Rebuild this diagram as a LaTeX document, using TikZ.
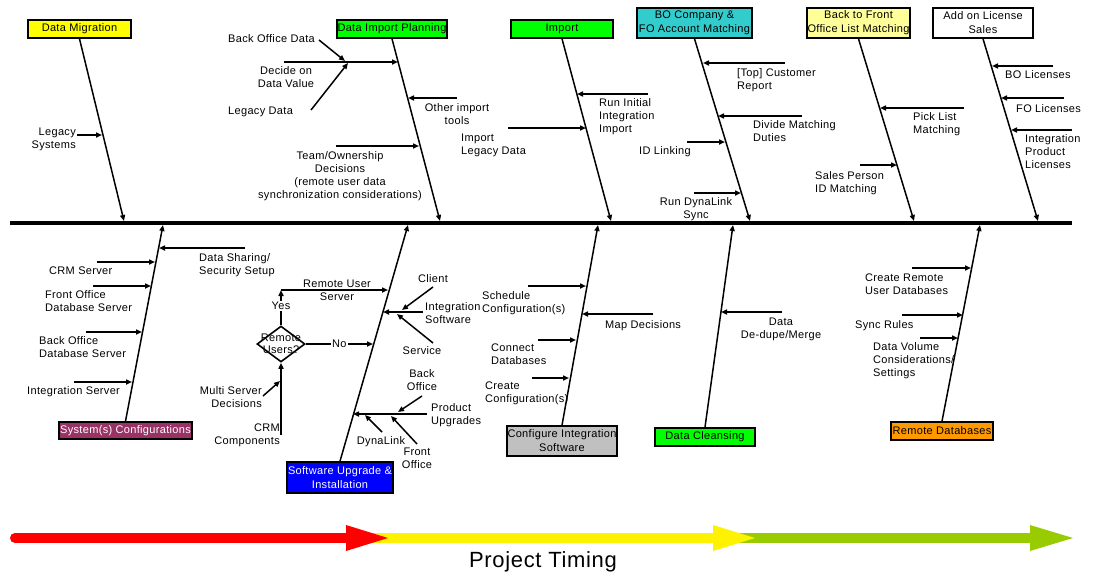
\documentclass[tikz,border=0pt]{standalone}
\usepackage{fontspec}
\setmainfont{Liberation Sans}[LetterSpace=3]
\usetikzlibrary{arrows.meta,shapes.geometric}

\definecolor{catyellow}{RGB}{255,255,0}
\definecolor{catgreen}{RGB}{0,255,0}
\definecolor{catcyan}{RGB}{51,204,204}
\definecolor{catpale}{RGB}{255,255,153}
\definecolor{catplum}{RGB}{153,51,102}
\definecolor{catblue}{RGB}{0,0,255}
\definecolor{catgray}{RGB}{192,192,192}
\definecolor{catorange}{RGB}{255,153,0}
\definecolor{timegreen}{RGB}{153,204,0}

\begin{document}
\begin{tikzpicture}[
			x = 1pt, y = -1pt,
			every node/.style = {font=\fontsize{11}{13}\selectfont, inner sep=0pt},
			catbox/.style = {draw, line width=1.6pt, align=center, font=\fontsize{11}{14}\selectfont},
			bone/.style = {line width=1.5pt, -{Triangle[length=6pt,width=5pt]}},
			decision/.style = {draw, diamond, line width=1.6pt, minimum width=48, minimum height=36},
			flag/.style = {fill=white, inner sep=1pt}
			]
			\useasboundingbox (0,0) rectangle (1093,573);

			% spine
			\coordinate (tail) at (10,223);
			\coordinate (head) at (1072,223);
			\draw[line width=4pt] (tail) -- (head);

			% categories above the spine
			\node[catbox, fill=catyellow, minimum width=103, minimum height=18] (migration) at (79.5,29) {Data Migration};
			\node[catbox, fill=catgreen, minimum width=110, minimum height=18] (planning) at (392,29) {Data Import Planning};
			\node[catbox, fill=catgreen, minimum width=102, minimum height=18] (import) at (562,29) {Import};
			\node[catbox, fill=catcyan, minimum width=115, minimum height=30] (bomatch) at (694.5,23) {BO Company \&\\FO Account Matching};
			\node[catbox, fill=catpale, minimum width=103, minimum height=30] (listmatch) at (858.5,23) {Back to Front\\Office List Matching};
			\node[catbox, fill=white, minimum width=100, minimum height=30] (license) at (983,23) {Add on License\\Sales};

			\coordinate (m1) at (124,221);
			\coordinate (m2) at (440,221);
			\coordinate (m3) at (611,221);
			\coordinate (m4) at (750,221);
			\coordinate (m5) at (914,221);
			\coordinate (m6) at (1038,221);
			\draw[bone] (migration.south) -- (m1);
			\draw[bone] (planning.south) -- (m2);
			\draw[bone] (import.south) -- (m3);
			\draw[bone] (bomatch.south) -- (m4);
			\draw[bone] (listmatch.south) -- (m5);
			\draw[bone] (license.south) -- (m6);

			% categories below the spine
			\node[catbox, fill=catplum, text=white, minimum width=133, minimum height=17] (sysconf) at (125.5,430.5) {System(s) Configurations};
			\node[catbox, fill=catblue, text=white, minimum width=106, minimum height=31] (swupgrade) at (340,477.5) {Software Upgrade \&\\Installation};
			\node[catbox, fill=catgray, minimum width=110, minimum height=30] (configure) at (562,441) {Configure Integration\\Software};
			\node[catbox, fill=catgreen, minimum width=100, minimum height=18] (cleansing) at (705,437) {Data Cleansing};
			\node[catbox, fill=catorange, minimum width=102, minimum height=18] (remotedb) at (942,431) {Remote Databases};

			\coordinate (n1) at (163,225);
			\coordinate (n2) at (408,225);
			\coordinate (n3) at (598,225);
			\coordinate (n4) at (733,225);
			\coordinate (n5) at (980,225);
			\draw[bone] (sysconf.north) -- (n1);
			\draw[bone] (swupgrade.north) -- (n2);
			\draw[bone] (configure.north) -- (n3);
			\draw[bone] (cleansing.north) -- (n4);
			\draw[bone] (remotedb.north) -- (n5);

			% causes, top
			\node[anchor=base east, align=right] (legacysys) at (76,148) {Legacy\\Systems};
			\draw[bone] (77,135) -- (102,135);

			\node[anchor=base west] (bodata) at (228,42) {Back Office Data};
			\node[anchor=base, align=center] (decide) at (286,87) {Decide on\\Data Value};
			\node[anchor=base west] (legacydata) at (228,114) {Legacy Data};
			\draw[bone] (284,62) -- (398,62);
			\draw[bone] (319,40) -- (345,61);
			\draw[bone] (311,110) -- (348,63);
			\node[anchor=base, align=center] (otherimport) at (457,124) {Other import\\tools};
			\draw[bone] (457,98) -- (408,98);
			\node[anchor=base, align=center] (team) at (340,198) {Team/Ownership\\Decisions\\(remote user data\\synchronization considerations)};
			\draw[bone] (336,146) -- (419,146);

			\node[anchor=base west, align=left] (runinitial) at (599,132) {Run Initial\\Integration\\Import};
			\draw[bone] (648,94) -- (577,94);
			\node[anchor=base west, align=left] (importlegacy) at (461,154) {Import\\Legacy Data};
			\draw[bone] (508,128) -- (586,128);

			\node[anchor=base west, align=left] (topcust) at (737,89) {[Top] Customer\\Report};
			\draw[bone] (785,63) -- (703,63);
			\node[anchor=base west, align=left] (divide) at (753,141) {Divide Matching\\Duties};
			\draw[bone] (802,116) -- (718,116);
			\node[anchor=base west] (idlinking) at (639,154) {ID Linking};
			\draw[bone] (687,142) -- (725,142);
			\node[anchor=base, align=center] (rundyna) at (696,218) {Run DynaLink\\Sync};
			\draw[bone] (694,193) -- (741,193);

			\node[anchor=base west, align=left] (picklist) at (913,133) {Pick List\\Matching};
			\draw[bone] (964,108) -- (880,108);
			\node[anchor=base west, align=left] (salesperson) at (815,192) {Sales Person\\ID Matching};
			\draw[bone] (860,165) -- (897,165);

			\node[anchor=base west] (bolic) at (1005,78) {BO Licenses};
			\draw[bone] (1053,66) -- (992,66);
			\node[anchor=base west] (folic) at (1016,112) {FO Licenses};
			\draw[bone] (1064,98) -- (1001,98);
			\node[anchor=base west, align=left] (intlic) at (1025,168) {Integration\\Product\\Licenses};
			\draw[bone] (1072,130) -- (1011,130);

			% causes, bottom
			\node[anchor=base west, align=left] (datasharing) at (199,274) {Data Sharing/\\Security Setup};
			\draw[bone] (245,248) -- (159,248);
			\node[anchor=base west] (crmserver) at (49,274) {CRM Server};
			\draw[bone] (97,262) -- (155,262);
			\node[anchor=base west, align=left] (foserver) at (45,311) {Front Office\\Database Server};
			\draw[bone] (93,286) -- (151,286);
			\node[anchor=base west, align=left] (boserver) at (39,357) {Back Office\\Database Server};
			\draw[bone] (86,332) -- (142,332);
			\node[anchor=base west] (intserver) at (27,394) {Integration Server};
			\draw[bone] (74,382) -- (132,382);

			\node[decision] (users) at (281,344) {};
			\node[align=center, font=\fontsize{11}{12}\selectfont] (userstext) at (users) {Remote\\Users?};
			\coordinate (yesturn) at (281,290);
			\draw[bone] (users.north) -- (yesturn);
			\node[flag] (yes) at (281,306) {Yes};
			\draw[bone] (yesturn) -- (388,290);
			\node[anchor=base, align=center] (remoteuser) at (337,300) {Remote User\\Server};
			\draw[bone] (users.east) -- (373,344) node[flag, midway] (no) {No};
			\node[anchor=base east, align=right] (multiserver) at (262,407) {Multi Server\\Decisions};
			\draw[bone] (263,396) -- (280,381);
			\node[anchor=base east, align=right] (crmcomp) at (280,444) {CRM\\Components};
			\draw[bone] (281,435) -- (users.south);

			\node[anchor=base] (client) at (433,282) {Client};
			\node[anchor=base west, align=left] (intsoftware) at (425,323) {Integration\\Software};
			\node[anchor=base] (service) at (422,354) {Service};
			\draw[bone] (423,312) -- (383,312);
			\draw[bone] (433,287) -- (402,310);
			\draw[bone] (433,343) -- (397,314);

			\node[anchor=base, align=center] (backoffice) at (422,390) {Back\\Office};
			\node[anchor=base west, align=left] (productupg) at (431,424) {Product\\Upgrades};
			\node[anchor=base] (dynalink) at (381,444) {DynaLink};
			\node[anchor=base, align=center] (frontoffice) at (417,468) {Front\\Office};
			\draw[bone] (427,414) -- (353,414);
			\draw[bone] (422,396) -- (398,412);
			\draw[bone] (382,432) -- (365,415);
			\draw[bone] (417,444) -- (391,416);

			\node[anchor=base west, align=left] (schedule) at (482,312) {Schedule\\Configuration(s)};
			\draw[bone] (528,286) -- (586,286);
			\node[anchor=base west] (mapdec) at (605,328) {Map Decisions};
			\draw[bone] (653,314) -- (582,314);
			\node[anchor=base west, align=left] (connectdb) at (491,364) {Connect\\Databases};
			\draw[bone] (538,340) -- (576,340);
			\node[anchor=base west, align=left] (createconf) at (485,402) {Create\\Configuration(s)};
			\draw[bone] (532,378) -- (569,378);

			\node[anchor=base, align=center] (datadedupe) at (781,338) {Data\\De-dupe/Merge};
			\draw[bone] (782,312) -- (721,312);

			\node[anchor=base west, align=left] (createremote) at (865,294) {Create Remote\\User Databases};
			\draw[bone] (912,268) -- (971,268);
			\node[anchor=base west] (syncrules) at (855,328) {Sync Rules};
			\draw[bone] (902,315) -- (963,315);
			\node[anchor=base west, align=left] (datavolume) at (873,376) {Data Volume\\Considerations/\\Settings};
			\draw[bone] (920,338) -- (958,338);

			% timing arrow
			\fill[timegreen] (730,533) rectangle (1030,543);
			\fill[timegreen] (1030,525) -- (1073,538) -- (1030,551) -- cycle;
			\fill[yellow] (370,533) rectangle (713,543);
			\fill[yellow] (713,525) -- (755,538) -- (713,551) -- cycle;
			\draw[red, line width=10pt, line cap=round] (15,538) -- (346,538);
			\fill[red] (346,525) -- (388,538) -- (346,551) -- cycle;
			\node[anchor=base, font=\fontsize{22}{26}\selectfont] (timing) at (543,567) {Project Timing};

		\end{tikzpicture}
\end{document}
